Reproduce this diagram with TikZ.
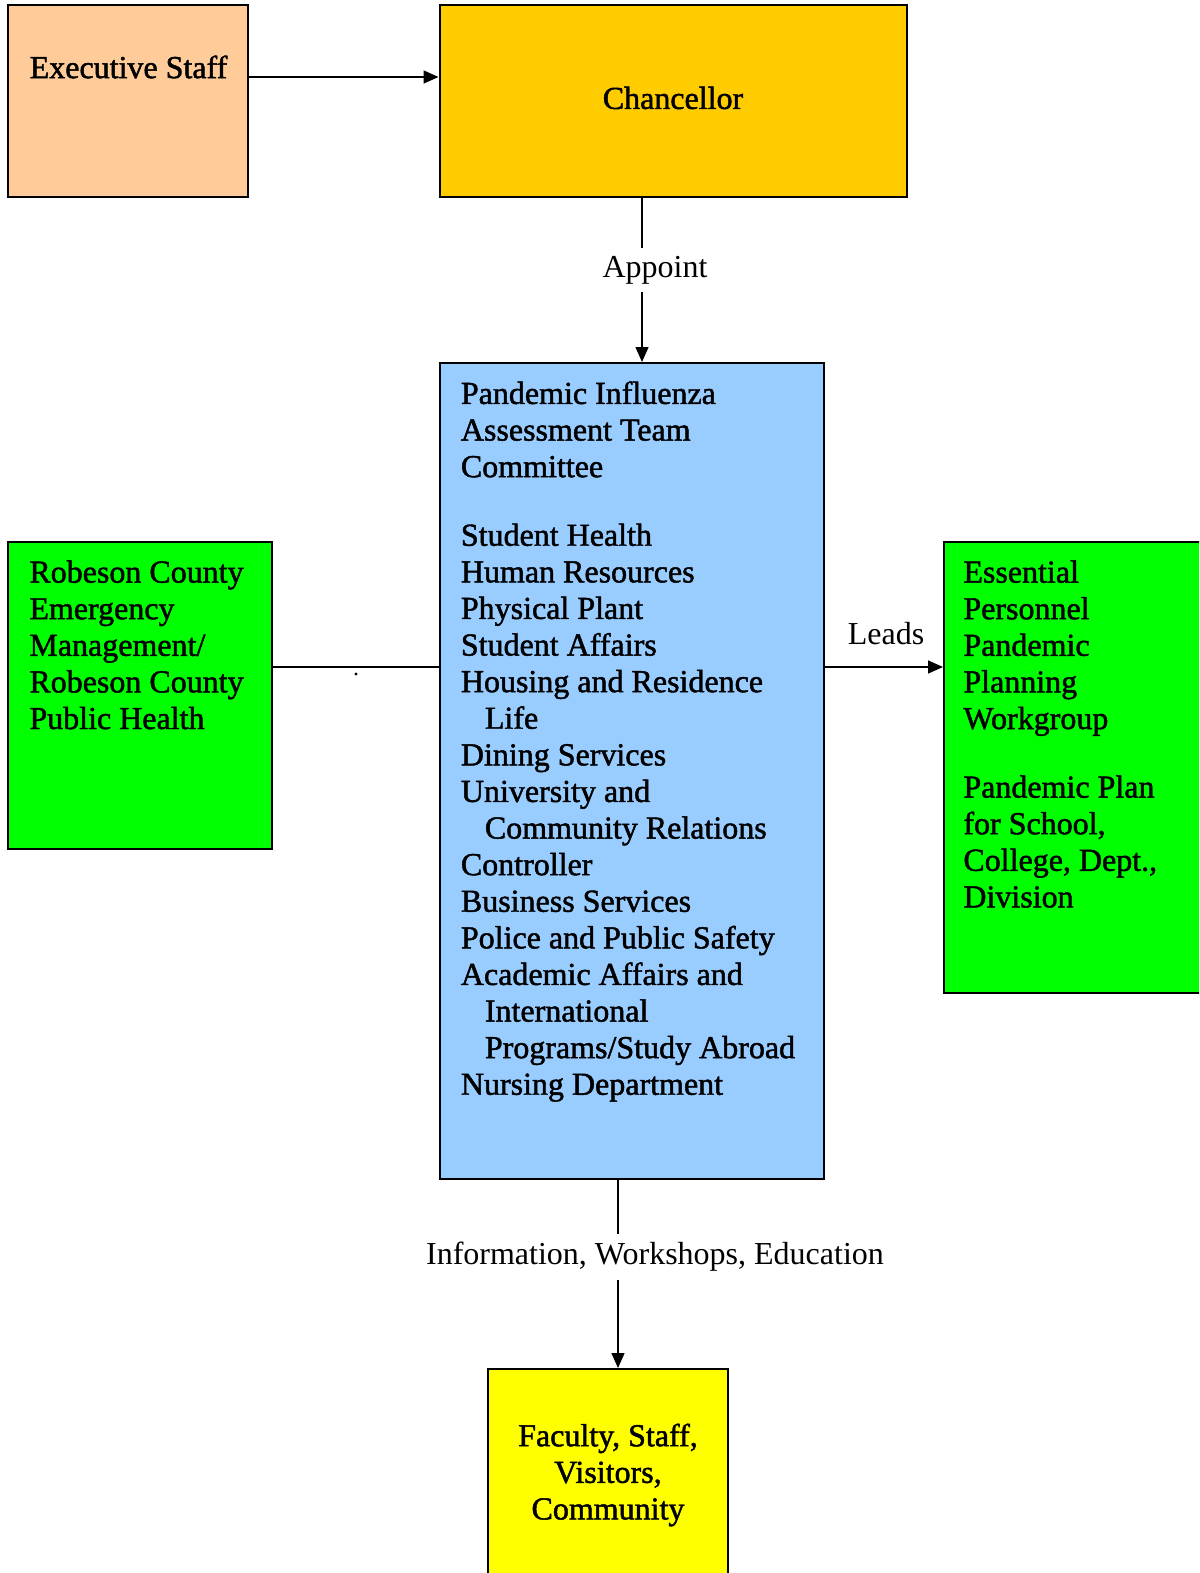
\documentclass[tikz,border=0pt]{standalone}
\usepackage{fontspec}
\setmainfont{Liberation Serif}
\newfontfamily\boxfont[FakeBold=1.5]{Liberation Serif}
\usetikzlibrary{arrows.meta}
\definecolor{peach}{HTML}{FFCC99}
\definecolor{gold}{HTML}{FFCC00}
\definecolor{skyb}{HTML}{99CCFF}
\definecolor{lgreen}{HTML}{00FF00}
\definecolor{lyellow}{HTML}{FFFF00}
\tikzset{
  box/.style={draw=black, line width=1pt, rectangle, inner sep=0pt},
  boxtext/.style={inner sep=0pt, font=\boxfont\fontsize{16pt}{18.3pt}\selectfont},
  conn/.style={line width=0.75pt},
  arr/.style={line width=0.75pt, -{Triangle[length=7.5pt,width=6.5pt]}},
  lbl/.style={fill=white, inner sep=4pt, font=\fontsize{16pt}{18.3pt}\selectfont}
}
\begin{document}
\begin{tikzpicture}[x=0.5pt,y=-0.5pt]
\useasboundingbox (0,0) rectangle (1199,1573);
\begin{scope}
\clip (0,0) rectangle (1199,1573);
% boxes
\node[box, fill=peach, minimum width=120pt, minimum height=96pt] (exec) at (128,101) {};
\node[box, fill=gold, minimum width=233.75pt, minimum height=96pt] (chan) at (673.25,101) {};
\node[box, fill=skyb, minimum width=192.25pt, minimum height=408pt] (central) at (631.75,771) {};
\node[box, fill=lgreen, minimum width=132pt, minimum height=153.5pt] (left) at (140,695.5) {};
\node[box, fill=lgreen, minimum width=129pt, minimum height=225.5pt] (right) at (1073,767.5) {};
\node[box, fill=lyellow, minimum width=120pt, minimum height=105.5pt] (bot) at (608,1474.5) {};
\end{scope}
% texts
\node[boxtext, anchor=center] (exect) at (128.5,67) {Executive Staff};
\node[boxtext, anchor=center] (chant) at (673,98) {Chancellor};
\node[boxtext, anchor=north west, align=left] (centralt) at (460.5,381) {%
Pandemic Influenza\\
Assessment Team\\
Committee\\[16pt]
Student Health\\
Human Resources\\
Physical Plant\\
Student Affairs\\
Housing and Residence\\
\hspace*{12pt}Life\\
Dining Services\\
University and\\
\hspace*{12pt}Community Relations\\
Controller\\
Business Services\\
Police and Public Safety\\
Academic Affairs and\\
\hspace*{12pt}International\\
\hspace*{12pt}Programs/Study Abroad\\
Nursing Department};
\node[boxtext, anchor=north west, align=left] (leftt) at (29,560) {%
Robeson County\\
Emergency\\
Management/\\
Robeson County\\
Public Health};
\node[boxtext, anchor=north west, align=left] (rightt) at (963,560) {%
Essential\\
Personnel\\
Pandemic\\
Planning\\
Workgroup\\[16pt]
Pandemic Plan\\
for School,\\
College, Dept.,\\
Division};
\node[boxtext, anchor=center, align=center] (bott) at (608,1475) {%
Faculty, Staff,\\
Visitors,\\
Community};
% connectors
\coordinate (ey) at (0,77);
\coordinate (ax) at (642,0);
\coordinate (my) at (0,667);
\coordinate (bx) at (618,0);
\draw[arr] (exec.east |- ey) -- (chan.west |- ey);
\draw[arr] (chan.south -| ax) -- (central.north -| ax);
\draw[conn] (left.east |- my) -- (central.west |- my);
\draw[arr] (central.east |- my) -- (right.west |- my);
\draw[arr] (central.south -| bx) -- (bot.north -| bx);
\fill (356,674) circle (0.8pt);
% labels
\node[lbl] (appoint) at (655,270) {Appoint};
\node[font=\fontsize{16pt}{18.3pt}\selectfont, inner sep=0pt] (leads) at (886,634) {Leads};
\node[lbl] (info) at (655,1257) {Information, Workshops, Education};
\end{tikzpicture}
\end{document}
